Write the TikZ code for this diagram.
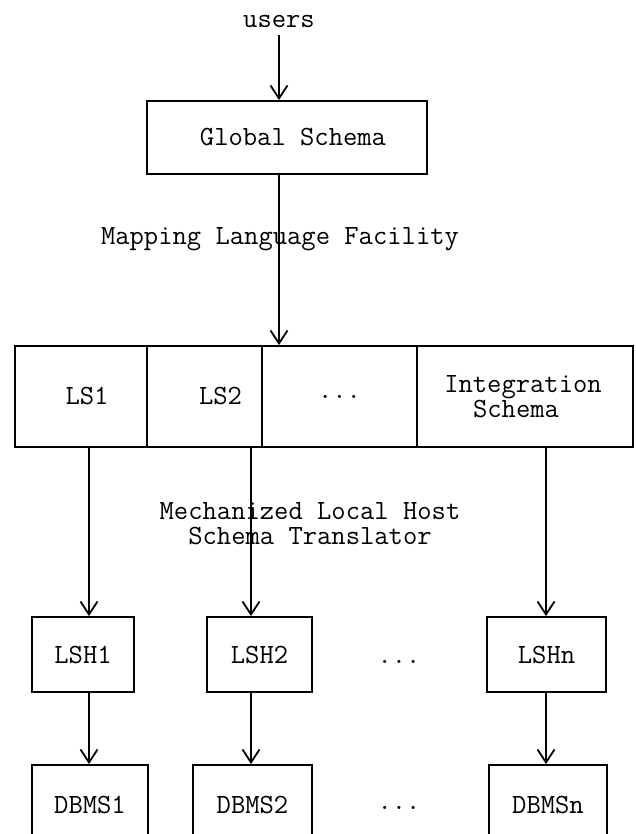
\documentclass[tikz,border=0pt]{standalone}
\usetikzlibrary{arrows.meta}
\newcommand\diagfont{\fontsize{27.8}{25}\selectfont\ttfamily}
\begin{document}
\begin{tikzpicture}[x=1pt,y=-1pt,
  box/.style={draw,line width=1.8pt,inner sep=0pt,font=\diagfont,align=center},
  arr/.style={line width=1.8pt,-{Straight Barb[length=13pt,width=17pt,line width=1.8pt]}},
  lbl/.style={font=\diagfont,inner sep=0pt,align=center}]
\useasboundingbox (0,0) rectangle (635,834);
\clip (0,0) rectangle (635,834);
% top
\node[lbl] (users) at (279,21) {users};
\node[box,minimum width=280pt,minimum height=73pt] (gs) at (287,137.5) {\hspace*{12pt}Global Schema};
\coordinate (xg) at (279,0);
\draw[arr,shorten <=8pt] (users.south -| xg) -- (gs.north -| xg);
% schema row
\node[box,minimum width=132pt,minimum height=101pt] (ls1) at (81,396.5) {\hspace*{12pt}LS1};
\node[box,minimum width=115pt,minimum height=101pt] (ls2) at (204.5,396.5) {\hspace*{32pt}LS2};
\node[box,minimum width=155pt,minimum height=101pt] (lsd) at (339.5,396.5) {...};
\node[box,minimum width=216pt,minimum height=101pt] (lsi) at (525,396.5) {Integration\hspace*{4pt}\\Schema\hspace*{18pt}};
\node[lbl] (mlf) at (280,239) {Mapping Language Facility};
\draw[arr] (gs.south -| xg) -- (lsd.north -| xg);
% columns
\coordinate (x1) at (89,0);
\coordinate (x2) at (251,0);
\coordinate (x3) at (546,0);
\node[box,minimum width=102pt,minimum height=75pt] (lsh1) at (83,654.5) {LSH1};
\node[box,minimum width=105pt,minimum height=75pt] (lsh2) at (259.5,654.5) {LSH2};
\node[box,minimum width=119pt,minimum height=75pt] (lshn) at (546.5,654.5) {LSHn};
\node[lbl] (dots1) at (399,662) {...};
\node[lbl] (mlh) at (310,524) {Mechanized Local Host\\Schema Translator};
\draw[arr] (ls1.south -| x1) -- (lsh1.north -| x1);
\draw[arr] (ls2.south -| x2) -- (lsh2.north -| x2);
\draw[arr] (lsi.south -| x3) -- (lshn.north -| x3);
% DBMS row
\node[box,minimum width=116pt,minimum height=80pt] (db1) at (90,805) {DBMS1};
\node[box,minimum width=119pt,minimum height=80pt] (db2) at (252.5,805) {DBMS2};
\node[box,minimum width=118pt,minimum height=80pt] (dbn) at (548,805) {DBMSn};
\node[lbl] (dots2) at (399,808) {...};
\draw[arr] (lsh1.south -| x1) -- (db1.north -| x1);
\draw[arr] (lsh2.south -| x2) -- (db2.north -| x2);
\draw[arr] (lshn.south -| x3) -- (dbn.north -| x3);
\end{tikzpicture}
\end{document}
